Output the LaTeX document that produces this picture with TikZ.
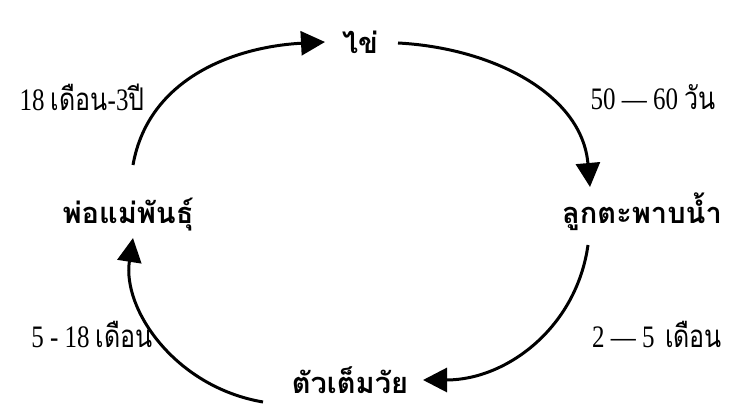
\documentclass[tikz,border=0pt]{standalone}
\usepackage{fontspec}
\setmainfont{Liberation Serif}
\newfontfamily\thaifont[Script=Thai]{Loma}
\usepackage{tikz}
\usetikzlibrary{arrows.meta, positioning}

\begin{document}
\begin{tikzpicture}[
  x=1pt, y=1pt,
  stage/.style={font=\thaifont\bfseries\fontsize{29}{36}\selectfont, inner sep=2pt},
  period/.style={font=\fontsize{25}{30}\selectfont, inner sep=2pt,
    yscale=1.25, transform shape},
  flow/.style={line width=3pt, -{Triangle[length=24pt, width=24pt]}}
]
\useasboundingbox (0,0) rectangle (739,409);

% Stages of the life cycle
\node[stage] (egg)    at (360,367) {ไข่};
\node[stage] (young)  at (642,197) {ลูกตะพาบน้ำ};
\node[stage] (adult)  at (350,29)  {ตัวเต็มวัย};
\node[stage] (parent) at (128,194) {พ่อแม่พันธุ์};

% Durations
\node[period] (t1) at (82,312)  {18 {\thaifont เดือน}-3{\thaifont ปี}};
\node[period] (t2) at (653,312) {50 — 60 {\thaifont วัน}};
\node[period] (t3) at (657,74)  {2 — 5 \,{\thaifont เดือน}};
\node[period] (t4) at (92,74)   {5 - 18 {\thaifont เดือน}};

% Arrows round the cycle
\draw[flow] ([shift={(5,50)}]parent.center) to[out=80, in=183] ([xshift=-35]egg.center);
\draw[flow] ([shift={(38,-1)}]egg.center) to[out=-3, in=95] ([shift={(-52,25)}]young.center);
\draw[flow] ([shift={(-54,-33)}]young.center) to[out=262, in=0] ([xshift=73]adult.center);
\draw[flow] ([shift={(-87,-22)}]adult.center)
  .. controls +(-88,15) and +(-11,-71) .. ([shift={(5,-23)}]parent.center);

\end{tikzpicture}
\end{document}
